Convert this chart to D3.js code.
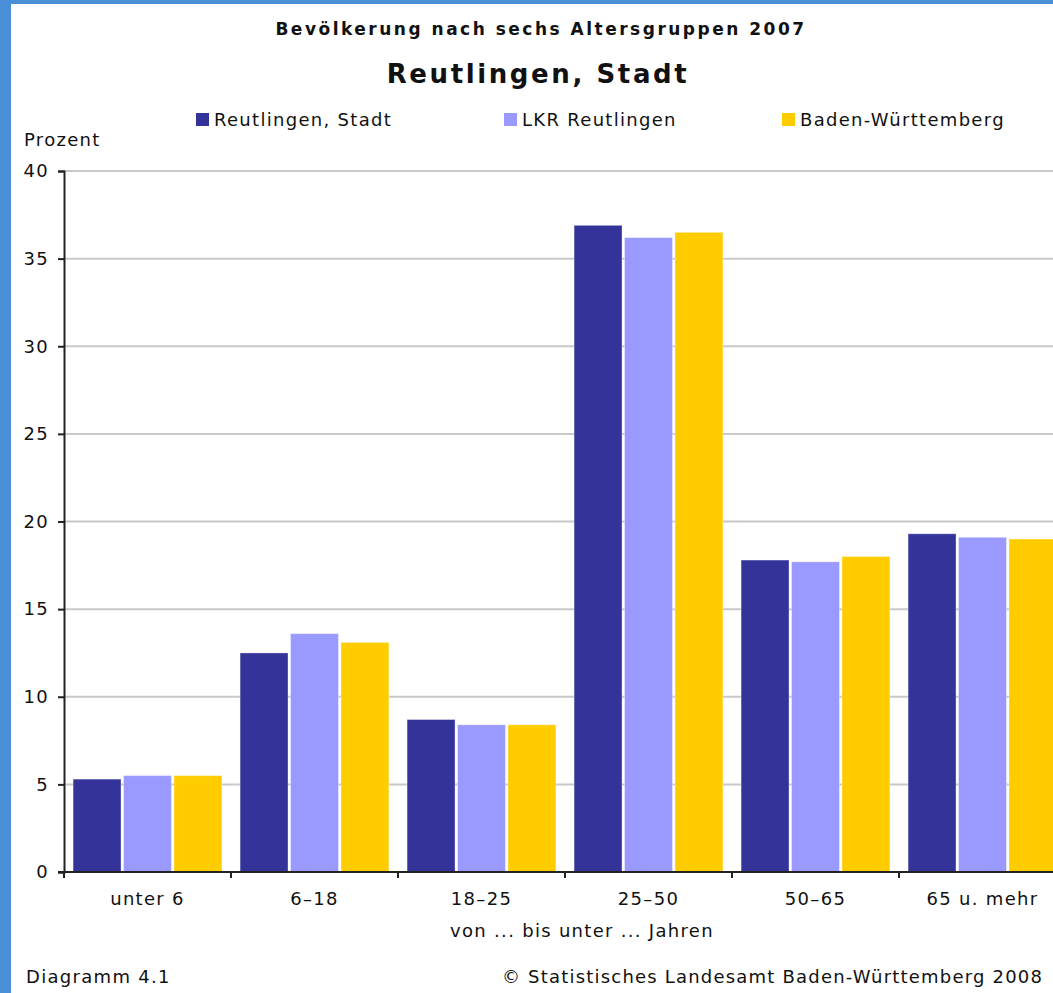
<!DOCTYPE html>
<html>
<head>
<meta charset="utf-8">
<script src="https://cdn.jsdelivr.net/npm/d3@7"></script>
<style>
  html, body { margin: 0; padding: 0; background: #4a90d9; overflow: hidden; }
  svg { display: block; }
  text { font-family: "DejaVu Sans", Verdana, sans-serif; fill: #111; font-size: 18px; letter-spacing: 1.3px; }
</style>
</head>
<body>
<svg id="chart" width="1053" height="993"></svg>
<script>
const categories = ['unter 6', '6–18', '18–25', '25–50', '50–65', '65 u. mehr'];
const seriesNames = ['Reutlingen, Stadt', 'LKR Reutlingen', 'Baden-Württemberg'];
const seriesColors = ['#333399', '#9999ff', '#ffcc00'];
const reutlingenStadt = [5.3, 12.5, 8.7, 36.9, 17.8, 19.3];
const lkrReutlingen = [5.5, 13.6, 8.4, 36.2, 17.7, 19.1];
const badenWuerttemberg = [5.5, 13.1, 8.4, 36.5, 18.0, 19.0];
const yTicks = [0, 5, 10, 15, 20, 25, 30, 35, 40];

const seriesValues = [reutlingenStadt, lkrReutlingen, badenWuerttemberg];

let svg = d3.select('#chart');

// white page with the blue frame on the left and top
svg.append('rect')
  .attr('x', 11).attr('y', 4)
  .attr('width', 1053).attr('height', 993)
  .attr('fill', '#fff');

const plotLeft = 64, plotRight = 1066, plotTop = 171, plotBottom = 872;

let x = d3.scaleBand()
  .domain(categories)
  .range([plotLeft, plotRight]);

let xSub = d3.scaleBand()
  .domain(seriesNames)
  .range([0, x.bandwidth()])
  .paddingInner(0.05)
  .paddingOuter(0.18);

let y = d3.scaleLinear()
  .domain([0, 40])
  .range([plotBottom, plotTop]);

// titles
svg.append('text')
  .attr('x', 541).attr('y', 35)
  .attr('text-anchor', 'middle')
  .style('font-size', '17px').style('font-weight', 'bold')
  .style('letter-spacing', '2.5px')
  .text('Bevölkerung nach sechs Altersgruppen 2007');

svg.append('text')
  .attr('x', 538).attr('y', 83)
  .attr('text-anchor', 'middle')
  .style('font-size', '26px').style('font-weight', 'bold')
  .style('letter-spacing', '2.6px')
  .text('Reutlingen, Stadt');

// legend
let legendX = [196, 504, 782];
let legend = svg.append('g').selectAll('g')
  .data(seriesNames)
  .enter()
  .append('g')
  .attr('transform', (d, i) => 'translate(' + legendX[i] + ',113)');

legend.append('rect')
  .attr('width', 13).attr('height', 13)
  .attr('fill', (d, i) => seriesColors[i]);

legend.append('text')
  .attr('x', 18).attr('y', 13)
  .text(d => d);

svg.append('text')
  .attr('x', 24).attr('y', 146)
  .text('Prozent');

// gridlines
svg.append('g').selectAll('line')
  .data(yTicks.filter(t => t > 0))
  .enter()
  .append('line')
  .attr('x1', plotLeft).attr('x2', plotRight)
  .attr('y1', d => y(d)).attr('y2', d => y(d))
  .attr('stroke', '#c8c8c8')
  .attr('stroke-width', 2);

// bars
let groups = svg.append('g').selectAll('g')
  .data(categories)
  .enter()
  .append('g')
  .attr('transform', d => 'translate(' + x(d) + ',0)');

groups.selectAll('rect')
  .data((d, ci) => seriesNames.map((s, si) => ({ series: s, value: seriesValues[si][ci], color: seriesColors[si] })))
  .enter()
  .append('rect')
  .attr('x', d => xSub(d.series))
  .attr('y', d => y(d.value))
  .attr('width', xSub.bandwidth())
  .attr('height', d => plotBottom - y(d.value))
  .attr('fill', d => d.color)
  .attr('stroke', 'rgba(255,255,255,0.35)')
  .attr('stroke-width', 1);

// y axis
let yAxis = svg.append('g')
  .attr('transform', 'translate(' + plotLeft + ',0)')
  .call(d3.axisLeft(y).tickValues(yTicks).tickSize(6).tickPadding(9));
yAxis.attr('font-family', null).attr('font-size', null);
yAxis.select('.domain').attr('stroke', '#222').attr('stroke-width', 2);
yAxis.selectAll('.tick line').attr('stroke', '#222').attr('stroke-width', 2);
yAxis.selectAll('.tick text')
  .attr('fill', '#111');

// x axis: ticks at group boundaries
let xAxis = svg.append('g')
  .attr('transform', 'translate(0,' + plotBottom + ')');
xAxis.append('line')
  .attr('x1', plotLeft - 6).attr('x2', plotRight)
  .attr('stroke', '#222').attr('stroke-width', 2);
xAxis.selectAll('.bound')
  .data(categories)
  .enter()
  .append('line')
  .attr('x1', d => x(d)).attr('x2', d => x(d))
  .attr('y1', 0).attr('y2', 6)
  .attr('stroke', '#222').attr('stroke-width', 2);
xAxis.selectAll('text')
  .data(categories)
  .enter()
  .append('text')
  .attr('x', d => x(d) + x.bandwidth() / 2)
  .attr('y', 33)
  .attr('text-anchor', 'middle')
  .text(d => d);

svg.append('text')
  .attr('x', 582).attr('y', 937)
  .attr('text-anchor', 'middle')
  .text('von ... bis unter ... Jahren');

svg.append('text')
  .attr('x', 26).attr('y', 983)
  .text('Diagramm 4.1');

svg.append('text')
  .attr('x', 502).attr('y', 983)
  .style('letter-spacing', '1.2px')
  .text('© Statistisches Landesamt Baden-Württemberg 2008');
</script>
</body>
</html>
